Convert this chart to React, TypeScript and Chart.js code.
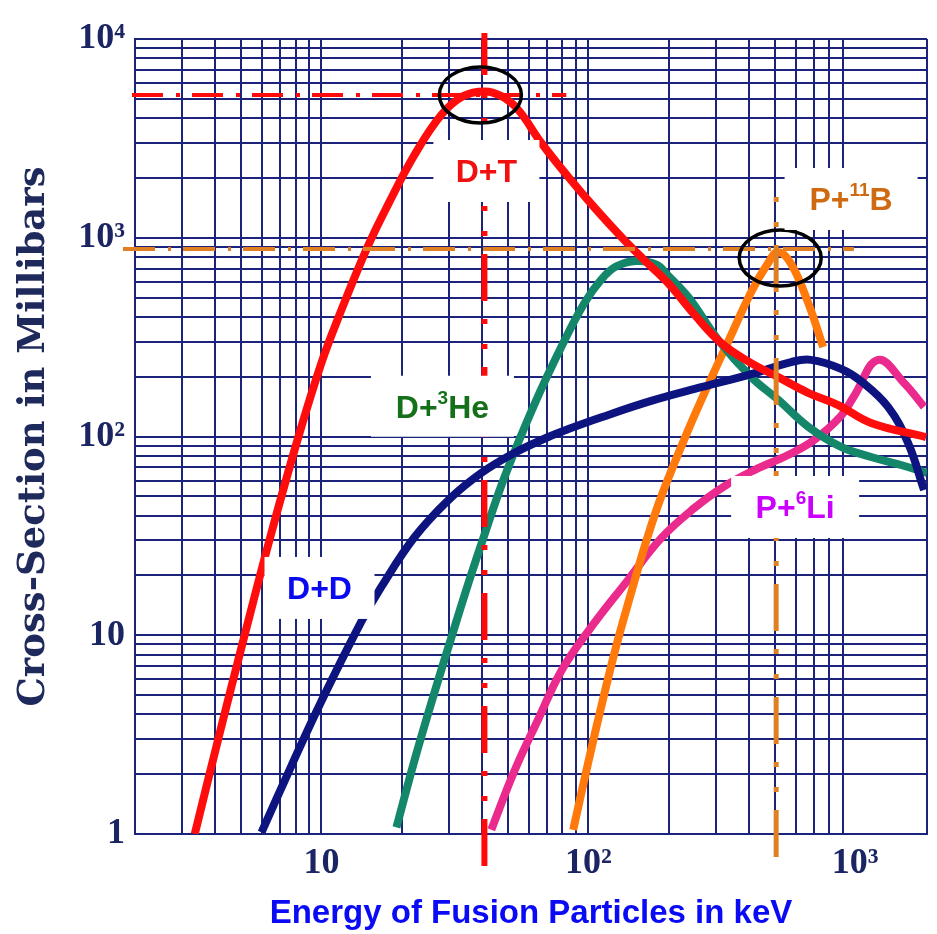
import { useEffect, useRef } from 'react';
import { Chart, registerables } from 'chart.js';

Chart.register(...registerables);

// ---------- data (energy in keV, cross-section in millibarns) ----------
const dtEnergy = [3.35, 4.15, 5.15, 6.5, 8.2, 10, 11.6, 14.7, 17.8, 22.3, 28.1, 34.0, 40.8, 47.2, 54.7, 66.7, 84.2, 105, 133, 162, 199, 250, 315, 408, 515, 667, 864, 1148, 1845];
const dtSigma = [1.0, 3.2, 10, 33, 100, 235, 400, 867, 1476, 2606, 4146, 5160, 5450, 5160, 4393, 2997, 2021, 1428, 1009, 773, 592, 410, 295, 234, 199, 166, 144, 117, 99.4];

const ddEnergy = [5.96, 7.72, 10, 14.1, 16.8, 22.3, 29.9, 39.7, 52.8, 70.8, 84.2, 112, 172, 265, 408, 576, 684, 886, 1053, 1329, 1579, 1813];
const ddSigma = [1.02, 2.21, 4.67, 11.7, 17.6, 31.1, 47.9, 65.5, 82.6, 99.4, 109, 125, 151, 177, 206, 237, 243, 219, 190, 141, 92.8, 53.8];

const dheEnergy = [19.1, 22.3, 25.8, 30.7, 35.5, 40.8, 48.5, 62.8, 79.2, 96.6, 112, 127, 151, 180, 199, 237, 307, 408, 515, 667, 886, 1148, 1487, 1860];
const dheSigma = [1.08, 2.34, 4.57, 9.77, 18.2, 32.0, 62.4, 145, 282, 468, 617, 716, 764, 733, 646, 503, 306, 199, 153, 112, 88.6, 78.9, 71.9, 65.5];

const pbEnergy = [87.8, 100, 112, 127, 145, 165, 188, 237, 296, 334, 408, 472, 515, 576, 667, 759];
const pbSigma = [1.05, 2.3, 4.41, 8.73, 16.5, 29.8, 50.2, 108, 211, 299, 533, 746, 848, 738, 470, 282];

const pliEnergy = [43.3, 52.8, 65.0, 79.2, 100, 141, 188, 250, 320, 419, 561, 702, 886, 992, 1219, 1526, 1813];
const pliSigma = [1.05, 2.07, 3.79, 6.61, 10.5, 19.0, 30.9, 43.7, 55.7, 67.8, 80.7, 96.0, 127, 160, 243, 186, 141];

// axis ranges, grid values and tick labels
const xMin = 2;
const xMax = 1860;
const yMin = 1;
const yMax = 10000;
const xLabelValues = [10, 100, 1000];
const xLabelTexts = ['10', '10²', '10³'];
const yLabelValues = [1, 10, 100, 1000, 10000];
const yLabelTexts = ['1', '10', '10²', '10³', '10⁴'];
const xHiddenGrid = [1000];

const decadeGrid = (lo: number, hi: number) => {
  const out: number[] = [];
  for (let k = 1; k <= hi; k *= 10) {
    for (let m = 1; m <= 9; m++) {
      const v = m * k;
      if (v >= lo && v <= hi) out.push(v);
    }
  }
  return out;
};

// reference markers (peak of D+T, peak of p+11B)
const dtPeakE = 40.8;
const dtPeakSigma = 5230;
const dtGuideEndE = 82.7;
const pbPeakE = 506;
const pbPeakSigma = 878;
const pbGuideEndE = 990;
const pbGuideTopSigma = 1738;
const dtCircleE = 39.4;
const pbCircleE = 524;
const pbCircleSigma = 791;

// label anchors (data units)
const labelNames = ['D+T', 'P+11B', 'D+3He', 'D+D', 'P+6Li'];
const labelE = [41.5, 966, 28.4, 9.83, 596];
const labelSigma = [2167, 1567, 142, 17.3, 44.2];

// ---------- styles ----------
const SANS = "'Liberation Sans', Arial, sans-serif";
const SERIF = "'Liberation Serif', 'DejaVu Serif', serif";
const GRID = '#1b237a';
const TICK_COLOR = '#1c2563';

const labelParts: [string, boolean][][] = [
  [['D+T', false]],
  [['P+', false], ['11', true], ['B', false]],
  [['D+', false], ['3', true], ['He', false]],
  [['D+D', false]],
  [['P+', false], ['6', true], ['Li', false]],
];
const labelColors = ['#f01010', '#cf6a12', '#15701a', '#0a0af0', '#cc00ff'];
const labelBoxes = [
  [106, 62],
  [133, 62],
  [143, 61],
  [110, 62],
  [128, 62],
];

const W = 937;
const H = 934;

const annotationPlugin = {
  id: 'fusionAnnotations',
  afterDatasetsDraw(chart: any) {
    const { ctx, chartArea } = chart;
    const xs = chart.scales.x;
    const ys = chart.scales.y;
    const px = (v: number) => xs.getPixelForValue(v);
    const py = (v: number) => ys.getPixelForValue(v);

    const line = (x1: number, y1: number, x2: number, y2: number, color: string, w: number, dash: number[]) => {
      ctx.save();
      ctx.strokeStyle = color;
      ctx.lineWidth = w;
      ctx.setLineDash(dash);
      ctx.lineCap = 'butt';
      ctx.beginPath();
      ctx.moveTo(x1, y1);
      ctx.lineTo(x2, y2);
      ctx.stroke();
      ctx.restore();
    };

    const red = '#ff0a0a';
    const orange = '#e08023';
    // D+T guides
    line(chartArea.left - 3, py(dtPeakSigma), px(dtGuideEndE), py(dtPeakSigma), red, 4, [31, 13, 4, 12]);
    line(px(dtPeakE), chartArea.bottom + 32, px(dtPeakE), chartArea.top - 6, red, 6, [47, 18, 5, 20, 5, 18]);
    // p+11B guides
    line(chartArea.left - 12, py(pbPeakSigma), px(pbGuideEndE), py(pbPeakSigma), orange, 4, [32, 13, 3, 12]);
    line(px(pbPeakE), chartArea.bottom + 23, px(pbPeakE), py(pbGuideTopSigma), orange, 5, [47, 18, 5, 20, 5, 18]);

    // circles around the peaks
    ctx.save();
    ctx.strokeStyle = '#000';
    ctx.lineWidth = 3.5;
    ctx.beginPath();
    ctx.ellipse(px(dtCircleE), py(dtPeakSigma), 41, 28, 0, 0, Math.PI * 2);
    ctx.stroke();
    ctx.beginPath();
    ctx.ellipse(px(pbCircleE), py(pbCircleSigma), 41, 28, 0, 0, Math.PI * 2);
    ctx.stroke();
    ctx.restore();

    // reaction labels in white boxes
    labelNames.forEach((name, i) => {
      const cx = px(labelE[i]);
      const cy = py(labelSigma[i]);
      const [bw, bh] = labelBoxes[i];
      ctx.save();
      ctx.fillStyle = '#ffffff';
      ctx.fillRect(cx - bw / 2, cy - bh / 2, bw, bh);
      const parts = labelParts[i];
      const mainFont = `bold 32px ${SANS}`;
      const supFont = `bold 19px ${SANS}`;
      let total = 0;
      parts.forEach(([t, s]) => {
        ctx.font = s ? supFont : mainFont;
        total += ctx.measureText(t).width;
      });
      let xx = cx - total / 2;
      const base = cy + 11.5;
      ctx.fillStyle = labelColors[i];
      ctx.textAlign = 'left';
      ctx.textBaseline = 'alphabetic';
      parts.forEach(([t, s]) => {
        ctx.font = s ? supFont : mainFont;
        ctx.fillText(t, xx, s ? base - 14 : base);
        xx += ctx.measureText(t).width;
      });
      ctx.restore();
      void name;
    });
  },
};

const series = [
  { label: 'D+T', e: dtEnergy, s: dtSigma, color: '#ff0d0d' },
  { label: 'D+D', e: ddEnergy, s: ddSigma, color: '#0d1480' },
  { label: 'D+3He', e: dheEnergy, s: dheSigma, color: '#14876a' },
  { label: 'P+11B', e: pbEnergy, s: pbSigma, color: '#ff7a0a' },
  { label: 'P+6Li', e: pliEnergy, s: pliSigma, color: '#ea2a8c' },
];

export default function App() {
  const ref = useRef<HTMLCanvasElement>(null);

  useEffect(() => {
    const canvas = ref.current;
    if (!canvas) return;
    const xGrid = [...decadeGrid(xMin, 1000), xMax];
    const yGrid = decadeGrid(yMin, yMax);

    const chart = new Chart(canvas, {
      type: 'line',
      data: {
        datasets: series.map((sr) => ({
          label: sr.label,
          data: sr.e.map((e, i) => ({ x: e, y: sr.s[i] })),
          borderColor: sr.color,
          backgroundColor: sr.color,
          borderWidth: 8,
          pointRadius: 0,
          fill: false,
          tension: 0.4,
          borderCapStyle: 'butt',
          borderJoinStyle: 'round',
        })),
      },
      options: {
        animation: false,
        responsive: false,
        devicePixelRatio: 1,
        layout: { padding: { top: 39, right: 10, left: 0, bottom: 0 } },
        plugins: {
          legend: { display: false },
          tooltip: { enabled: false },
        },
        scales: {
          x: {
            type: 'logarithmic',
            min: xMin,
            max: xMax,
            afterBuildTicks: (s: any) => {
              s.ticks = xGrid.map((v) => ({ value: v }));
            },
            afterFit: (s: any) => {
              s.height = 100;
            },
            ticks: {
              autoSkip: false,
              maxRotation: 0,
              padding: 8,
              color: TICK_COLOR,
              font: { family: SERIF, size: 36, weight: 'bold' },
              callback: (v: any) => {
                const idx = xLabelValues.indexOf(Number(v));
                return idx >= 0 ? xLabelTexts[idx] : '';
              },
            },
            grid: {
              drawTicks: false,
              lineWidth: 2,
              color: (c: any) => (c.tick && xHiddenGrid.includes(c.tick.value) ? 'rgba(0,0,0,0)' : GRID),
            },
            border: { display: true, color: GRID, width: 2 },
            title: {
              display: true,
              text: 'Energy of Fusion Particles in keV',
              color: '#0a0af5',
              font: { family: SANS, size: 33, weight: 'bold' },
              padding: { top: 0, bottom: 0 },
            },
          },
          y: {
            type: 'logarithmic',
            min: yMin,
            max: yMax,
            afterBuildTicks: (s: any) => {
              s.ticks = yGrid.map((v) => ({ value: v }));
            },
            afterFit: (s: any) => {
              s.width = 135;
            },
            ticks: {
              autoSkip: false,
              padding: 10,
              color: TICK_COLOR,
              font: { family: SERIF, size: 36, weight: 'bold' },
              callback: (v: any) => {
                const idx = yLabelValues.indexOf(Number(v));
                return idx >= 0 ? yLabelTexts[idx] : '';
              },
            },
            grid: { drawTicks: false, lineWidth: 2, color: GRID },
            border: { display: true, color: GRID, width: 2 },
            title: {
              display: true,
              text: 'Cross-Section in Millibars',
              color: '#1f2a5c',
              font: { family: "'DejaVu Serif', serif", size: 37, weight: 'bold' },
              padding: { top: 12, bottom: 0 },
            },
          },
        },
      } as any,
      plugins: [annotationPlugin],
    });
    return () => chart.destroy();
  }, []);

  return (
    <div style={{ position: 'absolute', left: 0, top: 0, width: W, height: H, background: '#ffffff' }}>
      <canvas ref={ref} width={W} height={H} style={{ display: 'block', width: W, height: H }} />
    </div>
  );
}
